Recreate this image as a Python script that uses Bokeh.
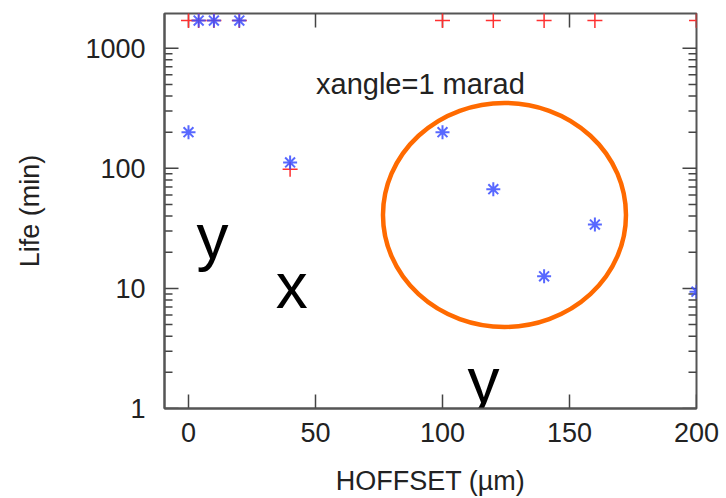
import math
from bokeh.plotting import figure
from bokeh.models import FixedTicker, LogTicker, PrintfTickFormatter, Range1d
from bokeh.core.properties import value
from bokeh.embed import file_html
from bokeh.resources import INLINE

# ---- data ----
red_x = [0, 4, 10, 20, 40, 100, 120, 140, 160, 200]
red_y = [1700, 1700, 1700, 1700, 98, 1700, 1700, 1700, 1700, 1700]
blue_x = [0, 4, 10, 20, 40, 100, 120, 140, 160, 200]
blue_y = [200, 1700, 1700, 1700, 112, 200, 67, 12.6, 34, 9.4]
x_ticks = [0, 50, 100, 150, 200]
y_ticks = [1, 10, 100, 1000]

note_text = "xangle=1 marad"
note_pos = (91.3, 500)
letters = ["y", "x", "y"]
letters_x = [9.45, 40.6, 116.1]
letters_y = [26.9, 10.4, 1.70]
circle_center = (124.4, 40.9)
circle_size = (243, 224)

X_MIN, X_MAX = -9.45, 200.0
Y_MIN, Y_MAX = 1, 1946

FONT = "Liberation Sans"
TICK_COLOR = "#444444"

p = figure(width=726, height=498, output_backend="svg", toolbar_location=None,
           y_axis_type="log", x_range=Range1d(X_MIN, X_MAX), y_range=Range1d(Y_MIN, Y_MAX),
           min_border_left=164, min_border_right=30, min_border_top=13, min_border_bottom=87)
p.background_fill_color = "white"
p.border_fill_color = "white"
p.xgrid.grid_line_color = None
p.ygrid.grid_line_color = None
p.outline_line_color = "#555555"
p.outline_line_width = 2

def style(ax):
    ax.axis_line_color = "#555555"
    ax.axis_line_width = 2
    ax.major_tick_in = 0
    ax.major_tick_out = 0
    ax.minor_tick_in = 0
    ax.minor_tick_out = 0
    ax.major_label_text_font = FONT
    ax.major_label_text_font_size = "27px"
    ax.major_label_text_color = "#222222"
    ax.axis_label_text_font = FONT
    ax.axis_label_text_font_size = "27px"
    ax.axis_label_text_font_style = "normal"
    ax.axis_label_text_color = "#222222"

xa = p.xaxis[0]
xa.ticker = FixedTicker(ticks=x_ticks)
style(xa)
xa.axis_label = "HOFFSET (µm)"
xa.major_label_standoff = 14
xa.axis_label_standoff = 21

ya = p.yaxis[0]
style(ya)
ya.ticker = LogTicker(desired_num_ticks=4)
ya.formatter = PrintfTickFormatter(format="%d")
ya.axis_label = "Life (min)"
ya.major_label_standoff = 19
ya.axis_label_standoff = 37

# inward tick marks on all four frame edges (markers are clipped to the frame, so only the inner half shows)
minor_y = [m * d for d in y_ticks for m in range(2, 10) if m * d < Y_MAX]
for yedge in (Y_MIN, Y_MAX):
    p.scatter(x_ticks, [yedge] * len(x_ticks), marker="dash", angle=math.pi / 2, size=28,
              line_color=TICK_COLOR, line_width=1.5)
for xedge in (X_MIN, X_MAX):
    p.scatter([xedge] * len(y_ticks), y_ticks, marker="dash", size=28,
              line_color=TICK_COLOR, line_width=1.5)
    p.scatter([xedge] * len(minor_y), minor_y, marker="dash", size=16,
              line_color=TICK_COLOR, line_width=1.5)

p.scatter(red_x, red_y, marker="cross", size=15, line_color="#ff3030", line_width=1.5)
p.scatter(blue_x, blue_y, marker="asterisk", size=14, line_color="#3b4dff", line_width=2, line_alpha=0.85)

p.text(x=[note_pos[0]], y=[note_pos[1]], text=[note_text], text_font=value(FONT),
       text_font_size="29px", text_color="#222222", text_align="center", text_baseline="alphabetic")
p.text(x=letters_x, y=letters_y, text=letters, text_font=value(FONT),
       text_font_size="64px", text_color="black", text_align="center", text_baseline="alphabetic")

p.ellipse(x=[circle_center[0]], y=[circle_center[1]], width=circle_size[0], height=circle_size[1],
          width_units="screen", height_units="screen", fill_color=None,
          line_color="#ff6a00", line_width=4.5)

open("out.html", "w").write(file_html(p, INLINE))
